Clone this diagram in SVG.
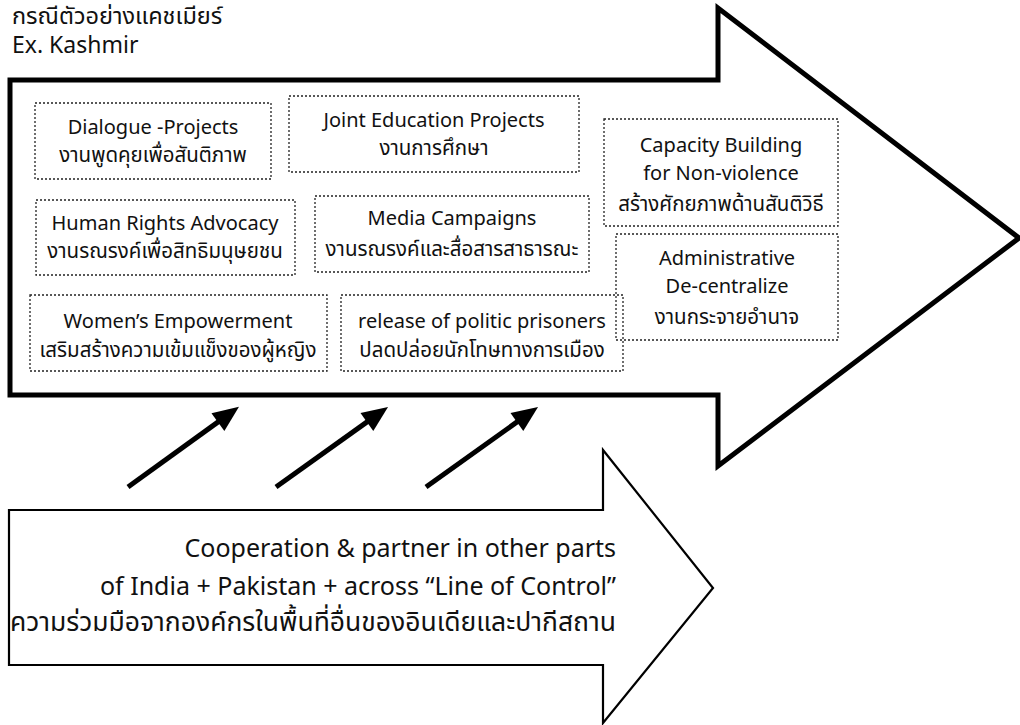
<svg xmlns="http://www.w3.org/2000/svg" width="1020" height="725" viewBox="0 0 1020 725">
<style>
  text { font-family: "Noto Sans", "Noto Sans Thai", "Loma", "Tahoma", sans-serif; fill: #111; }
  .box { fill: none; stroke: #222; stroke-width: 1.3; stroke-dasharray: 2 2; }
  .bt { font-size: 20px; text-anchor: middle; }
  .th { font-size: 20.5px; text-anchor: middle; }
  .title { font-size: 23px; }
  .titleth { font-size: 23.5px; }
  .bottom { font-size: 25px; text-anchor: end; }
  .bottomth { font-size: 26.5px; text-anchor: end; }
  .conn { stroke: #000; stroke-width: 5; fill: none; }
</style>
<defs>
  <marker id="ah" markerUnits="userSpaceOnUse" markerWidth="30" markerHeight="26" viewBox="-2 -13 30 26" refX="8" refY="0" orient="auto">
    <path d="M0,-11 L26,0 L0,11 z" fill="#000"/>
  </marker>
</defs>
<rect width="1020" height="725" fill="#fff"/>

<g id="title">
  <text class="titleth" x="12" y="24">กรณีตัวอย่างแคชเมียร์</text>
  <text class="title" x="12" y="53">Ex. Kashmir</text>
</g>

<g id="main-arrow">
  <polygon points="10,80 718,80 718,8 1019,238 718,466 718,395 10,395" fill="#fff" stroke="#000" stroke-width="5" stroke-linejoin="miter"/>
</g>

<g id="base-arrow">
  <polygon points="9,510 603,510 603,450 713,588 603,723 603,665 9,665" fill="#fff" stroke="#000" stroke-width="2.2"/>
  <text class="bottom" x="616" y="557">Cooperation &amp; partner in other parts</text>
  <text class="bottom" x="616" y="595">of India + Pakistan + across “Line of Control”</text>
  <text class="bottomth" x="616" y="631">ความร่วมมือจากองค์กรในพื้นที่อื่นของอินเดียและปากีสถาน</text>
</g>

<g id="dialogue">
  <rect class="box" x="35" y="103" width="236" height="76"/>
  <text class="bt" x="153" y="134">Dialogue -Projects</text>
  <text class="th" x="153" y="162">งานพูดคุยเพื่อสันติภาพ</text>
</g>
<g id="joint-education">
  <rect class="box" x="289" y="96" width="290" height="76"/>
  <text class="bt" x="434" y="127">Joint Education Projects</text>
  <text class="th" x="434" y="155">งานการศึกษา</text>
</g>
<g id="capacity">
  <rect class="box" x="604" y="119" width="234" height="107"/>
  <text class="bt" x="721" y="152">Capacity Building</text>
  <text class="bt" x="721" y="180">for Non-violence</text>
  <text class="th" x="721" y="211">สร้างศักยภาพด้านสันติวิธี</text>
</g>
<g id="human-rights">
  <rect class="box" x="36" y="200" width="259" height="75"/>
  <text class="bt" x="165" y="230">Human Rights Advocacy</text>
  <text class="th" x="165" y="258">งานรณรงค์เพื่อสิทธิมนุษยชน</text>
</g>
<g id="media">
  <rect class="box" x="315" y="196" width="274" height="76"/>
  <text class="bt" x="452" y="225">Media Campaigns</text>
  <text class="th" x="452" y="256">งานรณรงค์และสื่อสารสาธารณะ</text>
</g>
<g id="administrative">
  <rect class="box" x="616" y="234" width="222" height="106"/>
  <text class="bt" x="727" y="265">Administrative</text>
  <text class="bt" x="727" y="293">De-centralize</text>
  <text class="th" x="727" y="324">งานกระจายอำนาจ</text>
</g>
<g id="women">
  <rect class="box" x="30" y="295" width="297" height="76"/>
  <text class="bt" x="178" y="328">Women’s Empowerment</text>
  <text class="th" x="178" y="357">เสริมสร้างความเข้มแข็งของผู้หญิง</text>
</g>
<g id="prisoners">
  <rect class="box" x="341" y="295" width="282" height="76"/>
  <text class="bt" x="482" y="328">release of politic prisoners</text>
  <text class="th" x="482" y="357">ปลดปล่อยนักโทษทางการเมือง</text>
</g>

<g id="connectors">
  <line class="conn" x1="128" y1="487" x2="224.4" y2="417.4" marker-end="url(#ah)"/>
  <line class="conn" x1="276" y1="487" x2="373.4" y2="417.4" marker-end="url(#ah)"/>
  <line class="conn" x1="426" y1="487" x2="523.4" y2="417.4" marker-end="url(#ah)"/>
</g>
</svg>
